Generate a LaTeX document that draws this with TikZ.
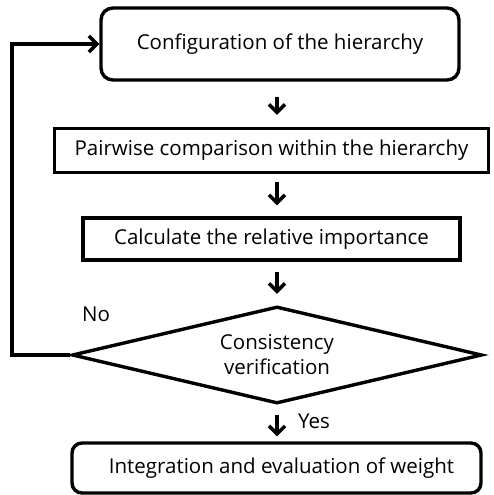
\documentclass[tikz,border=0pt]{standalone}
\usepackage{fontspec}
\setmainfont{Open Sans}
\usetikzlibrary{arrows.meta,shapes.geometric}
\begin{document}
\begin{tikzpicture}[x=1pt,y=-1pt,
  every node/.style={font=\fontsize{20.5}{24}\selectfont, inner sep=0pt},
  flow/.style={line width=3.4pt, -{Straight Barb[length=8pt,width=16pt,line width=3.4pt]}},
  boxa/.style={draw, line width=3.4pt, rounded corners=12pt},
  boxb/.style={draw, line width=3.4pt}]
\useasboundingbox (0,0) rectangle (493,495);
\node[boxa, minimum width=358pt, minimum height=72pt] (b1) at (280,44) {Configuration of the hierarchy};
\node[boxb, minimum width=434pt, minimum height=44pt] (b2) at (271.5,150.5) {Pairwise comparison within the hierarchy};
\node[draw, line width=3.4pt, minimum width=377pt, minimum height=42pt] (b3) at (271.5,239) {Calculate the relative importance};
\node[draw, line width=3.4pt, shape=diamond, minimum width=410pt, minimum height=97pt, aspect=4.2, align=center, font=\fontsize{20.5}{25}\selectfont] (d) at (277,355) {Consistency\\verification};
\node[boxa, minimum width=409pt, minimum height=50pt, rounded corners=10pt] (b5) at (276.5,468) {\hspace{10pt}Integration and evaluation of weight};
\node[anchor=west] (no) at (82,314) {No};
\node[anchor=west] (yes) at (298,421) {Yes};
\draw[flow, shorten <=15pt, shorten >=12pt] (b1.south -| d.north) -- (b2.north -| d.north);
\draw[flow, shorten <=8pt, shorten >=11pt] (b2.south -| d.north) -- (b3.north -| d.north);
\draw[flow, shorten <=10pt, shorten >=11pt] (b3.south -| d.north) -- (d.north);
\draw[flow, shorten <=10pt, shorten >=5pt] (d.south) -- (b5.north -| d.south);
\coordinate (lc) at (12,355);
\draw[flow, line join=miter] (d.west) -- (lc) |- (b1.west);
\end{tikzpicture}
\end{document}
